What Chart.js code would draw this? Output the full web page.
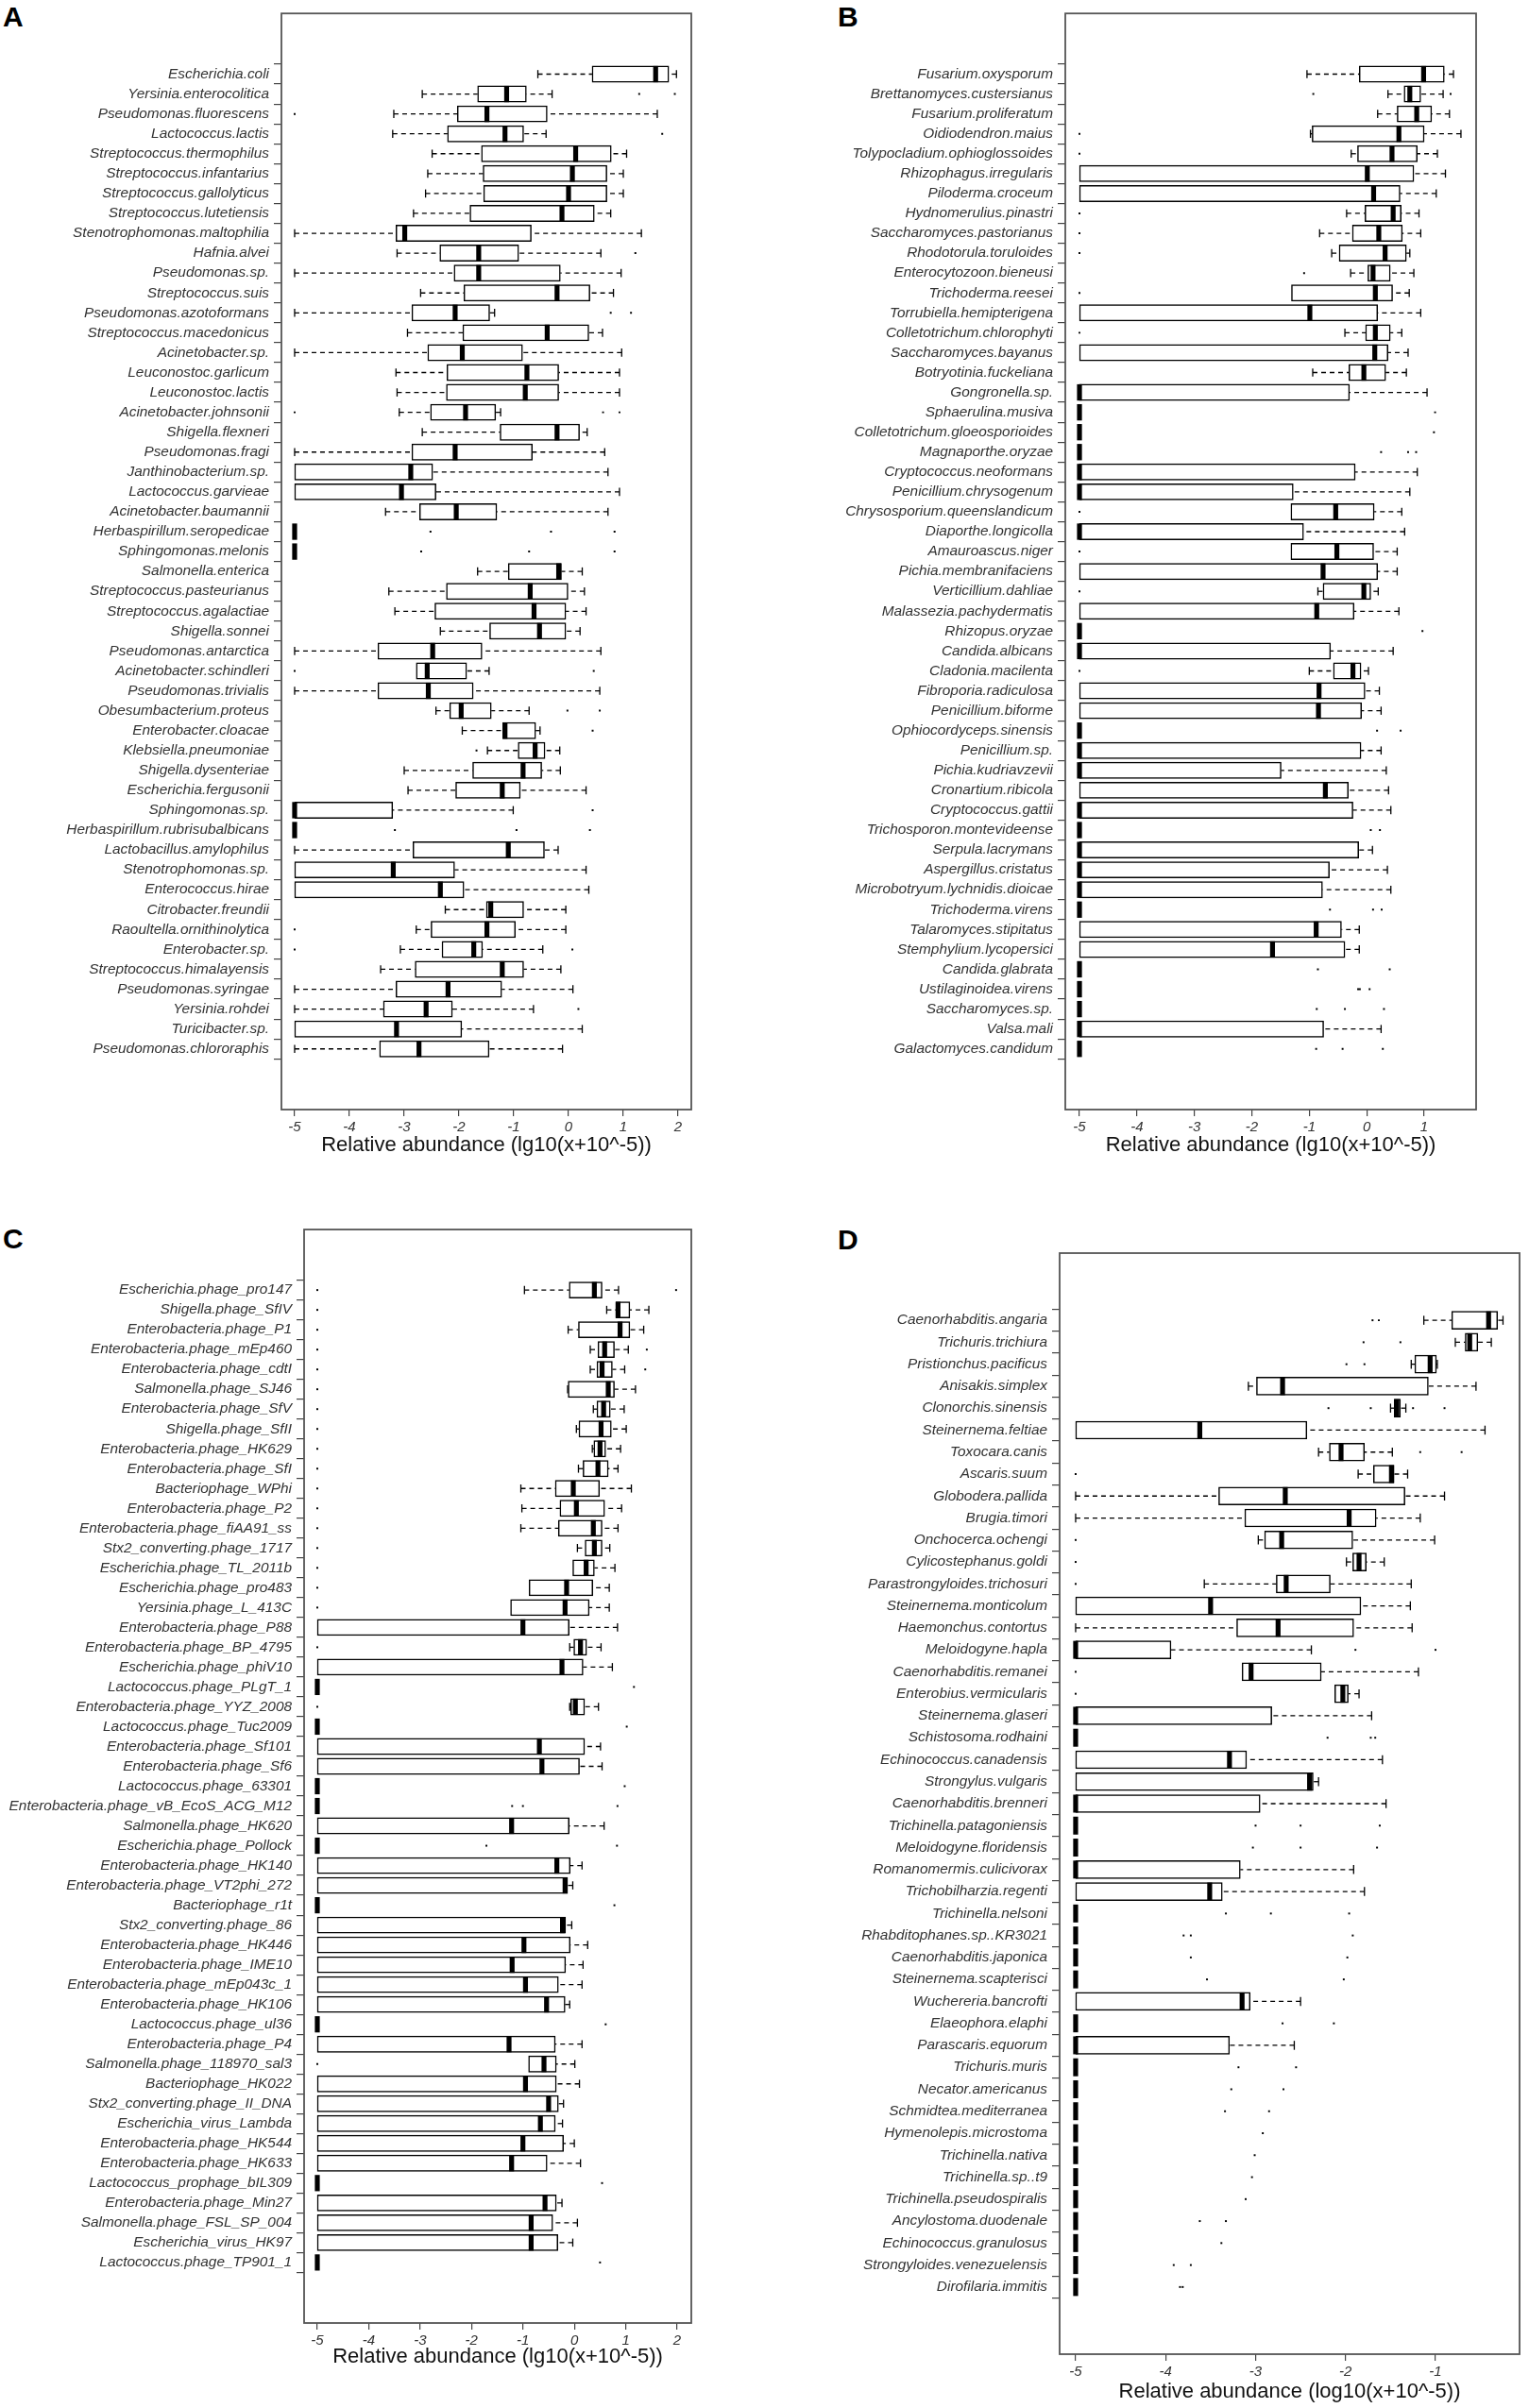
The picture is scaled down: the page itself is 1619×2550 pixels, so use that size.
<!DOCTYPE html>
<html>
<head>
<meta charset="utf-8">
<script src="https://cdn.jsdelivr.net/npm/chart.js@4.4.0/dist/chart.umd.min.js"></script>
<style>
  body { margin: 0; background: #fff; }
  #page { position: relative; width: 1619px; height: 2550px; background: #fff; }
  canvas { position: absolute; }
  .tag { position: absolute; font: bold 30px "Liberation Sans", Arial, sans-serif; line-height: 30px; color: #000; }
</style>
</head>
<body>
<div id="page">
  <div class="tag" style="left:3px;top:3px">A</div>
  <div class="tag" style="left:887px;top:3px">B</div>
  <div class="tag" style="left:3px;top:1297px">C</div>
  <div class="tag" style="left:887px;top:1298px">D</div>
  <canvas id="chartA" width="760" height="1240" style="left:0;top:0"></canvas>
  <canvas id="chartB" width="800" height="1240" style="left:800px;top:0"></canvas>
  <canvas id="chartC" width="760" height="1270" style="left:0;top:1280px"></canvas>
  <canvas id="chartD" width="819" height="1270" style="left:800px;top:1280px"></canvas>
</div>
<script>
// every row: [lower whisker, Q1, median, Q3, upper whisker]
const z = [-5, -5, -5, -5, -5];

const labelsA = [
  "Escherichia.coli", "Yersinia.enterocolitica", "Pseudomonas.fluorescens", "Lactococcus.lactis",
  "Streptococcus.thermophilus", "Streptococcus.infantarius", "Streptococcus.gallolyticus",
  "Streptococcus.lutetiensis", "Stenotrophomonas.maltophilia", "Hafnia.alvei", "Pseudomonas.sp.",
  "Streptococcus.suis", "Pseudomonas.azotoformans", "Streptococcus.macedonicus", "Acinetobacter.sp.",
  "Leuconostoc.garlicum", "Leuconostoc.lactis", "Acinetobacter.johnsonii", "Shigella.flexneri",
  "Pseudomonas.fragi", "Janthinobacterium.sp.", "Lactococcus.garvieae", "Acinetobacter.baumannii",
  "Herbaspirillum.seropedicae", "Sphingomonas.melonis", "Salmonella.enterica",
  "Streptococcus.pasteurianus", "Streptococcus.agalactiae", "Shigella.sonnei", "Pseudomonas.antarctica",
  "Acinetobacter.schindleri", "Pseudomonas.trivialis", "Obesumbacterium.proteus", "Enterobacter.cloacae",
  "Klebsiella.pneumoniae", "Shigella.dysenteriae", "Escherichia.fergusonii", "Sphingomonas.sp.",
  "Herbaspirillum.rubrisubalbicans", "Lactobacillus.amylophilus", "Stenotrophomonas.sp.",
  "Enterococcus.hirae", "Citrobacter.freundii", "Raoultella.ornithinolytica", "Enterobacter.sp.",
  "Streptococcus.himalayensis", "Pseudomonas.syringae", "Yersinia.rohdei", "Turicibacter.sp.",
  "Pseudomonas.chlororaphis"
];
const statsA = [
  [-0.56, 0.43, 1.59, 1.83, 1.97], [-2.67, -1.66, -1.13, -0.77, -0.30], [-3.19, -2.03, -1.49, -0.39, 1.62],
  [-3.21, -2.21, -1.16, -0.82, -0.41], [-2.49, -1.59, 0.13, 0.78, 1.06], [-2.57, -1.56, 0.07, 0.70, 1.0],
  [-2.61, -1.55, 0.0, 0.70, 1.0], [-2.83, -1.80, -0.12, 0.47, 0.77], [-5, -3.15, -2.99, -0.68, 1.33],
  [-3.13, -2.35, -1.64, -0.91, 0.59], [-5, -2.09, -1.64, -0.15, 0.96], [-2.70, -1.91, -0.21, 0.39, 0.82],
  [-5, -2.86, -2.07, -1.44, -1.35], [-2.94, -1.93, -0.39, 0.37, 0.62], [-5, -2.57, -1.94, -0.84, 0.97],
  [-3.15, -2.22, -0.76, -0.18, 0.93], [-3.13, -2.23, -0.79, -0.18, 0.93], [-3.09, -2.52, -1.88, -1.33, -1.24],
  [-2.67, -1.25, -0.21, 0.20, 0.34], [-5, -2.86, -2.07, -0.66, 0.66], [-5, -5, -2.88, -2.48, 0.72],
  [-5, -5, -3.05, -2.42, 0.93], [-3.34, -2.72, -2.05, -1.31, 0.72], z, z,
  [-1.66, -1.10, -0.18, -0.13, 0.25], [-3.28, -2.23, -0.70, 0.0, 0.29], [-3.17, -2.44, -0.63, -0.05, 0.32],
  [-2.34, -1.44, -0.53, -0.05, 0.21], [-5, -3.48, -2.48, -1.58, 0.59], [-2.78, -2.78, -2.58, -1.86, -1.45],
  [-5, -3.48, -2.56, -1.74, 0.57], [-2.42, -2.17, -1.96, -1.41, -0.72], [-1.94, -1.20, -1.16, -0.60, -0.52],
  [-1.48, -0.92, -0.61, -0.43, -0.16], [-3.0, -1.75, -0.83, -0.49, -0.15], [-2.93, -2.06, -1.21, -0.88, 0.32],
  [-5, -5, -5, -3.21, -1.01], z, [-5, -2.84, -1.10, -0.44, -0.19],
  [-5, -5, -3.20, -2.08, 0.32], [-5, -5, -2.34, -1.91, 0.37], [-2.25, -1.50, -1.42, -0.82, -0.05],
  [-2.78, -2.51, -1.49, -0.97, -0.05], [-3.07, -2.31, -1.73, -1.57, -0.47], [-3.43, -2.80, -1.21, -0.82, -0.14],
  [-5, -3.15, -2.20, -1.22, 0.08], [-5, -3.38, -2.60, -2.12, -0.64], [-5, -5, -3.14, -1.95, 0.25],
  [-5, -3.45, -2.73, -1.45, -0.11]
];
const outliersA = [
  [], [1.29, 1.94], [-5], [1.71], [], [], [], [], [], [1.22], [], [], [0.77, 1.14], [], [], [], [],
  [-5, 0.63, 0.93], [], [], [], [], [], [-2.52, -0.32, 0.84], [-2.69, -0.72, 0.84], [], [], [], [], [],
  [-5, 0.46], [], [-0.02, 0.57], [0.44], [-1.68], [], [], [0.44], [-3.17, -0.95, 0.39], [], [], [], [],
  [-5], [-5, 0.07], [], [], [0.18], [], []
];

const labelsB = [
  "Fusarium.oxysporum", "Brettanomyces.custersianus", "Fusarium.proliferatum", "Oidiodendron.maius",
  "Tolypocladium.ophioglossoides", "Rhizophagus.irregularis", "Piloderma.croceum", "Hydnomerulius.pinastri",
  "Saccharomyces.pastorianus", "Rhodotorula.toruloides", "Enterocytozoon.bieneusi", "Trichoderma.reesei",
  "Torrubiella.hemipterigena", "Colletotrichum.chlorophyti", "Saccharomyces.bayanus", "Botryotinia.fuckeliana",
  "Gongronella.sp.", "Sphaerulina.musiva", "Colletotrichum.gloeosporioides", "Magnaporthe.oryzae",
  "Cryptococcus.neoformans", "Penicillium.chrysogenum", "Chrysosporium.queenslandicum", "Diaporthe.longicolla",
  "Amauroascus.niger", "Pichia.membranifaciens", "Verticillium.dahliae", "Malassezia.pachydermatis",
  "Rhizopus.oryzae", "Candida.albicans", "Cladonia.macilenta", "Fibroporia.radiculosa", "Penicillium.biforme",
  "Ophiocordyceps.sinensis", "Penicillium.sp.", "Pichia.kudriavzevii", "Cronartium.ribicola",
  "Cryptococcus.gattii", "Trichosporon.montevideense", "Serpula.lacrymans", "Aspergillus.cristatus",
  "Microbotryum.lychnidis.dioicae", "Trichoderma.virens", "Talaromyces.stipitatus", "Stemphylium.lycopersici",
  "Candida.glabrata", "Ustilaginoidea.virens", "Saccharomyces.sp.", "Valsa.mali", "Galactomyces.candidum"
];
const statsB = [
  [-1.04, -0.13, 0.99, 1.35, 1.51], [0.37, 0.65, 0.75, 0.94, 1.33], [0.19, 0.53, 0.87, 1.13, 1.44],
  [-0.98, -0.95, 0.56, 1.0, 1.64], [-0.27, -0.16, 0.44, 0.88, 1.23], [-5, -5, 0.01, 0.82, 1.37],
  [-5, -5, 0.12, 0.58, 1.21], [-0.35, -0.03, 0.46, 0.60, 0.91], [-0.82, -0.25, 0.21, 0.62, 0.94],
  [-0.61, -0.48, 0.32, 0.69, 0.75], [-0.28, 0.02, 0.11, 0.41, 0.82], [-1.31, -1.31, 0.15, 0.45, 0.74],
  [-5, -5, -0.99, 0.19, 0.94], [-0.38, -0.02, 0.15, 0.41, 0.61], [-5, -5, 0.14, 0.37, 0.72],
  [-0.94, -0.31, -0.05, 0.33, 0.69], [-5, -5, -5, -0.30, 1.05], z, z, z,
  [-5, -5, -5, -0.20, 0.88], [-5, -5, -5, -1.28, 0.75], [-1.32, -1.32, -0.54, 0.13, 0.61],
  [-5, -5, -5, -1.10, 0.66], [-1.32, -1.32, -0.52, 0.12, 0.53], [-5, -5, -0.76, 0.19, 0.53],
  [-0.85, -0.76, -0.05, 0.07, 0.20], [-5, -5, -0.87, -0.22, 0.56], z, [-5, -5, -5, -0.63, 0.46],
  [-1.0, -0.58, -0.24, -0.10, 0.03], [-5, -5, -0.83, -0.03, 0.22], [-5, -5, -0.84, -0.09, 0.25], z,
  [-5, -5, -5, -0.10, 0.25], [-5, -5, -5, -1.49, 0.34], [-5, -5, -0.72, -0.32, 0.38], [-5, -5, -5, -0.24, 0.42],
  z, [-5, -5, -5, -0.14, 0.10], [-5, -5, -5, -0.65, 0.36], [-5, -5, -5, -0.77, 0.42], z,
  [-5, -5, -0.88, -0.44, -0.13], [-5, -5, -1.64, -0.38, -0.13], z, z, z, [-5, -5, -5, -0.75, 0.25], z
];
const outliersB = [
  [], [-0.93, 1.46], [], [-5], [-5], [], [], [-5], [-5], [-5], [-1.09], [-5], [], [-5], [], [], [],
  [1.19], [1.17], [0.25, 0.72, 0.86], [], [], [-5], [], [-5], [], [-5], [], [0.97], [], [-5], [], [],
  [0.18, 0.59], [], [], [], [], [0.07, 0.23], [], [], [], [-0.64, 0.11, 0.26], [], [], [-0.85, 0.40],
  [-0.15, -0.12, 0.05], [-0.87, -0.38, 0.30], [], [-0.88, -0.42, 0.28]
];

const labelsC = [
  "Escherichia.phage_pro147", "Shigella.phage_SfIV", "Enterobacteria.phage_P1", "Enterobacteria.phage_mEp460",
  "Enterobacteria.phage_cdtI", "Salmonella.phage_SJ46", "Enterobacteria.phage_SfV", "Shigella.phage_SfII",
  "Enterobacteria.phage_HK629", "Enterobacteria.phage_SfI", "Bacteriophage_WPhi", "Enterobacteria.phage_P2",
  "Enterobacteria.phage_fiAA91_ss", "Stx2_converting.phage_1717", "Escherichia.phage_TL_2011b",
  "Escherichia.phage_pro483", "Yersinia.phage_L_413C", "Enterobacteria.phage_P88", "Enterobacteria.phage_BP_4795",
  "Escherichia.phage_phiV10", "Lactococcus.phage_PLgT_1", "Enterobacteria.phage_YYZ_2008", "Lactococcus.phage_Tuc2009",
  "Enterobacteria.phage_Sf101", "Enterobacteria.phage_Sf6", "Lactococcus.phage_63301",
  "Enterobacteria.phage_vB_EcoS_ACG_M12", "Salmonella.phage_HK620", "Escherichia.phage_Pollock",
  "Enterobacteria.phage_HK140", "Enterobacteria.phage_VT2phi_272", "Bacteriophage_r1t", "Stx2_converting.phage_86",
  "Enterobacteria.phage_HK446", "Enterobacteria.phage_IME10", "Enterobacteria.phage_mEp043c_1",
  "Enterobacteria.phage_HK106", "Lactococcus.phage_ul36", "Enterobacteria.phage_P4", "Salmonella.phage_118970_sal3",
  "Bacteriophage_HK022", "Stx2_converting.phage_II_DNA", "Escherichia_virus_Lambda", "Enterobacteria.phage_HK544",
  "Enterobacteria.phage_HK633", "Lactococcus_prophage_bIL309", "Enterobacteria.phage_Min27",
  "Salmonella.phage_FSL_SP_004", "Escherichia_virus_HK97", "Lactococcus.phage_TP901_1"
];
const statsC = [
  [-0.97, -0.10, 0.39, 0.54, 0.86], [0.63, 0.81, 0.85, 1.08, 1.45], [-0.12, 0.08, 0.89, 1.08, 1.35],
  [0.31, 0.46, 0.59, 0.78, 1.05], [0.31, 0.44, 0.54, 0.74, 0.98], [-0.13, -0.12, 0.66, 0.78, 1.19],
  [0.37, 0.44, 0.57, 0.70, 0.97], [0.04, 0.09, 0.52, 0.72, 1.01], [0.35, 0.38, 0.50, 0.61, 0.90],
  [0.08, 0.17, 0.46, 0.66, 0.85], [-1.04, -0.37, -0.02, 0.49, 1.11], [-1.02, -0.28, 0.04, 0.59, 0.92],
  [-1.04, -0.31, 0.37, 0.54, 0.85], [0.06, 0.21, 0.39, 0.54, 0.69], [-0.03, -0.03, 0.23, 0.39, 0.79],
  [-0.88, -0.88, -0.15, 0.36, 0.68], [-1.24, -1.24, -0.18, 0.29, 0.68], [-5, -5, -1.0, -0.10, 0.84],
  [-0.09, -0.01, 0.12, 0.24, 0.52], [-5, -5, -0.24, 0.17, 0.74], z, [-0.09, -0.07, 0.02, 0.20, 0.47], z,
  [-5, -5, -0.68, 0.20, 0.51], [-5, -5, -0.63, 0.10, 0.54], z, z, [-5, -5, -1.22, -0.10, 0.58], z,
  [-5, -5, -0.34, -0.08, 0.15], [-5, -5, -0.18, -0.13, -0.03], z, [-5, -5, -0.23, -0.17, -0.05],
  [-5, -5, -0.98, -0.08, 0.26], [-5, -5, -1.21, -0.17, 0.17], [-5, -5, -0.95, -0.31, 0.15],
  [-5, -5, -0.54, -0.18, -0.09], z, [-5, -5, -1.27, -0.37, 0.15], [-0.89, -0.89, -0.59, -0.35, 0.01],
  [-5, -5, -0.95, -0.35, 0.10], [-5, -5, -0.50, -0.31, -0.21], [-5, -5, -0.66, -0.37, -0.23],
  [-5, -5, -1.0, -0.21, 0.0], [-5, -5, -1.22, -0.53, 0.12], z, [-5, -5, -0.57, -0.35, -0.24],
  [-5, -5, -0.84, -0.42, 0.06], [-5, -5, -0.84, -0.32, -0.03], z
];
const outliersC = [
  [-5, 1.98], [-5], [-5], [-5, 1.41], [-5, 1.38], [-5], [-5], [-5], [-5], [-5], [-5], [-5], [-5], [-5],
  [-5], [-5], [-5], [], [-5], [], [1.16], [-5], [1.02], [], [], [0.98], [-1.21, -1.0, 0.84], [],
  [-1.71, 0.83], [], [], [0.78], [], [], [], [], [], [0.61], [], [-5], [], [], [], [], [], [0.54], [],
  [], [], [0.50]
];

const labelsD = [
  "Caenorhabditis.angaria", "Trichuris.trichiura", "Pristionchus.pacificus", "Anisakis.simplex",
  "Clonorchis.sinensis", "Steinernema.feltiae", "Toxocara.canis", "Ascaris.suum", "Globodera.pallida",
  "Brugia.timori", "Onchocerca.ochengi", "Cylicostephanus.goldi", "Parastrongyloides.trichosuri",
  "Steinernema.monticolum", "Haemonchus.contortus", "Meloidogyne.hapla", "Caenorhabditis.remanei",
  "Enterobius.vermicularis", "Steinernema.glaseri", "Schistosoma.rodhaini", "Echinococcus.canadensis",
  "Strongylus.vulgaris", "Caenorhabditis.brenneri", "Trichinella.patagoniensis", "Meloidogyne.floridensis",
  "Romanomermis.culicivorax", "Trichobilharzia.regenti", "Trichinella.nelsoni", "Rhabditophanes.sp..KR3021",
  "Caenorhabditis.japonica", "Steinernema.scapterisci", "Wuchereria.bancrofti", "Elaeophora.elaphi",
  "Parascaris.equorum", "Trichuris.muris", "Necator.americanus", "Schmidtea.mediterranea",
  "Hymenolepis.microstoma", "Trichinella.nativa", "Trichinella.sp..t9", "Trichinella.pseudospiralis",
  "Ancylostoma.duodenale", "Echinococcus.granulosus", "Strongyloides.venezuelensis", "Dirofilaria.immitis"
];
const statsD = [
  [-1.13, -0.82, -0.41, -0.31, -0.25], [-0.78, -0.67, -0.62, -0.53, -0.38], [-1.27, -1.23, -1.06, -0.99, -0.98],
  [-3.08, -2.99, -2.70, -1.08, -0.55], [-1.50, -1.46, -1.43, -1.39, -1.33], [-5, -5, -3.62, -2.43, -0.45],
  [-2.30, -2.18, -2.05, -1.79, -1.48], [-1.86, -1.69, -1.49, -1.46, -1.31], [-5, -3.41, -2.67, -1.34, -0.90],
  [-5, -3.12, -1.96, -1.66, -1.17], [-2.97, -2.90, -2.71, -1.92, -1.01], [-1.99, -1.92, -1.85, -1.77, -1.57],
  [-3.57, -2.77, -2.66, -2.17, -1.27], [-5, -5, -3.50, -1.83, -1.28], [-5, -3.21, -2.75, -1.91, -1.26],
  [-5, -5, -5, -3.94, -2.38], [-3.15, -3.15, -3.05, -2.27, -1.19], [-2.12, -2.12, -2.03, -1.97, -1.85],
  [-5, -5, -5, -2.82, -1.71], z, [-5, -5, -3.29, -3.10, -1.59], [-5, -5, -2.40, -2.36, -2.30],
  [-5, -5, -5, -2.95, -1.55], z, z, [-5, -5, -5, -3.17, -1.91], [-5, -5, -3.51, -3.37, -1.79], z, z, z, z,
  [-5, -5, -3.15, -3.06, -2.50], z, [-5, -5, -5, -3.29, -2.57], z, z, z, z, z, z, z, z, z, z, z
];
const outliersD = [
  [-1.70, -1.63], [-1.80, -1.39], [-1.99, -1.79], [], [-2.19, -1.72, -1.25, -0.90], [], [-1.17, -0.71],
  [-5], [], [], [-5], [-5], [-5], [], [], [-1.89, -1.0], [-5], [-5], [], [-2.20, -1.72, -1.67], [], [], [],
  [-3.0, -2.50, -1.62], [-3.03, -2.50, -1.65], [], [], [-3.33, -2.83, -1.96], [-3.80, -3.72, -1.92],
  [-3.72, -1.98], [-3.54, -2.02], [], [-2.70, -2.13], [], [-3.19, -2.55], [-3.27, -2.69], [-3.34, -2.85],
  [-2.92], [-3.01], [-3.04], [-3.11], [-3.62, -3.33], [-3.38], [-3.91, -3.72], [-3.84, -3.81]
];

const xTicksA = [-5, -4, -3, -2, -1, 0, 1, 2];
const xTicksB = [-5, -4, -3, -2, -1, 0, 1];
const xTicksC = [-5, -4, -3, -2, -1, 0, 1, 2];
const xTicksD = [-5, -4, -3, -2, -1];

const FONT = '"Liberation Sans", Arial, sans-serif';

function boxParts(stats, boxH) {
  return {
    id: 'boxParts',
    beforeDatasetsDraw(chart) {
      // dashed whiskers with staples
      const { ctx, scales: { x, y } } = chart;
      ctx.save();
      ctx.strokeStyle = '#000';
      ctx.lineWidth = 1.3;
      stats.forEach((s, i) => {
        const py = y.getPixelForValue(i + 1);
        const ends = [[s[0], s[1]], [s[4], s[3]]];
        ends.forEach(([w, q]) => {
          if (w === q) return;
          const pw = x.getPixelForValue(w), pq = x.getPixelForValue(q);
          ctx.setLineDash([5, 4]);
          ctx.beginPath(); ctx.moveTo(pw, py); ctx.lineTo(pq, py); ctx.stroke();
          ctx.setLineDash([]);
          ctx.beginPath(); ctx.moveTo(pw, py - boxH / 4); ctx.lineTo(pw, py + boxH / 4); ctx.stroke();
        });
      });
      ctx.restore();
    },
    afterDatasetsDraw(chart) {
      // thick median lines
      const { ctx, scales: { x, y } } = chart;
      ctx.save();
      ctx.fillStyle = '#000';
      stats.forEach((s, i) => {
        const py = y.getPixelForValue(i + 1);
        const pm = x.getPixelForValue(s[2]);
        ctx.fillRect(pm - 2.6, py - boxH / 2, 5.2, boxH);
      });
      ctx.restore();
    },
    afterDraw(chart) {
      const { ctx, chartArea: a } = chart;
      ctx.save();
      ctx.strokeStyle = '#555';
      ctx.lineWidth = 1.8;
      ctx.strokeRect(a.left, a.top, a.right - a.left, a.bottom - a.top);
      ctx.restore();
    }
  };
}

function makeChart(id, labels, stats, outliers, xTicks, opt) {
  const boxes = [];
  stats.forEach((s, i) => {
    if (s[3] > s[1]) boxes.push({ x: [s[1], s[3]], y: i + 1 });
  });
  const dots = [];
  outliers.forEach((list, i) => list.forEach((v) => dots.push({ x: v, y: i + 1 })));

  return new Chart(document.getElementById(id), {
    type: 'bar',
    data: {
      datasets: [
        {
          type: 'bar',
          data: boxes,
          backgroundColor: '#fff',
          borderColor: '#000',
          borderWidth: 1.5,
          borderSkipped: false,
          barThickness: opt.boxH,
          order: 2
        },
        {
          type: 'scatter',
          data: dots,
          pointStyle: 'rect',
          pointRadius: 1.4,
          pointBorderWidth: 0,
          backgroundColor: '#000',
          order: 1
        }
      ]
    },
    options: {
      indexAxis: 'y',
      responsive: false,
      animation: false,
      layout: { padding: opt.padding },
      plugins: { legend: { display: false }, tooltip: { enabled: false } },
      scales: {
        x: {
          type: 'linear',
          min: opt.xmin,
          max: opt.xmax,
          afterBuildTicks: (s) => { s.ticks = xTicks.map((v) => ({ value: v })); },
          afterFit: (s) => { s.height = opt.xHeight; },
          grid: { drawOnChartArea: false, drawTicks: true, tickLength: 7, color: '#444', lineWidth: 1.2 },
          border: { display: false },
          ticks: {
            padding: 3,
            color: '#333',
            font: { family: FONT, size: 15, style: 'italic' },
            callback: (v) => String(v)
          },
          title: {
            display: true,
            text: opt.title,
            color: '#111',
            font: { family: FONT, size: 22 },
            padding: { top: 0, bottom: opt.titlePad }
          }
        },
        y: {
          type: 'linear',
          reverse: true,
          min: -1.5,
          max: labels.length + 2.5,
          afterBuildTicks: (s) => { s.ticks = labels.map((_, i) => ({ value: i + 1 })); },
          afterFit: (s) => { s.width = opt.yWidth; },
          grid: { drawOnChartArea: false, drawTicks: true, tickLength: 8, color: '#444', lineWidth: 1.2 },
          border: { display: false },
          ticks: {
            autoSkip: false,
            padding: 5,
            color: '#333',
            font: { family: FONT, size: 15.4, style: 'italic' },
            callback: (v) => labels[v - 1]
          }
        }
      }
    },
    plugins: [boxParts(stats, opt.boxH)]
  });
}

const titleLg = 'Relative abundance (lg10(x+10^-5))';
const titleLog = 'Relative abundance (log10(x+10^-5))';

makeChart('chartA', labelsA, statsA, outliersA, xTicksA, {
  padding: { top: 8, right: 28, bottom: 5, left: 0 },
  yWidth: 298, xHeight: 60, titlePad: 9, xmin: -5.241, xmax: 2.241, boxH: 17.3, title: titleLg
});
makeChart('chartB', labelsB, statsB, outliersB, xTicksB, {
  padding: { top: 8, right: 37, bottom: 5, left: 0 },
  yWidth: 328, xHeight: 60, titlePad: 9, xmin: -5.247, xmax: 1.904, boxH: 17.3, title: titleLg
});
makeChart('chartC', labelsC, statsC, outliersC, xTicksC, {
  padding: { top: 22, right: 28, bottom: 30, left: 0 },
  yWidth: 322, xHeight: 60, titlePad: 11, xmin: -5.257, xmax: 2.276, boxH: 17.2, title: titleLg
});
makeChart('chartD', labelsD, statsD, outliersD, xTicksD, {
  padding: { top: 47, right: 10, bottom: 3, left: 0 },
  yWidth: 322, xHeight: 54, titlePad: 1, xmin: -5.178, xmax: -0.066, boxH: 19.0, title: titleLog
});
</script>
</body>
</html>
